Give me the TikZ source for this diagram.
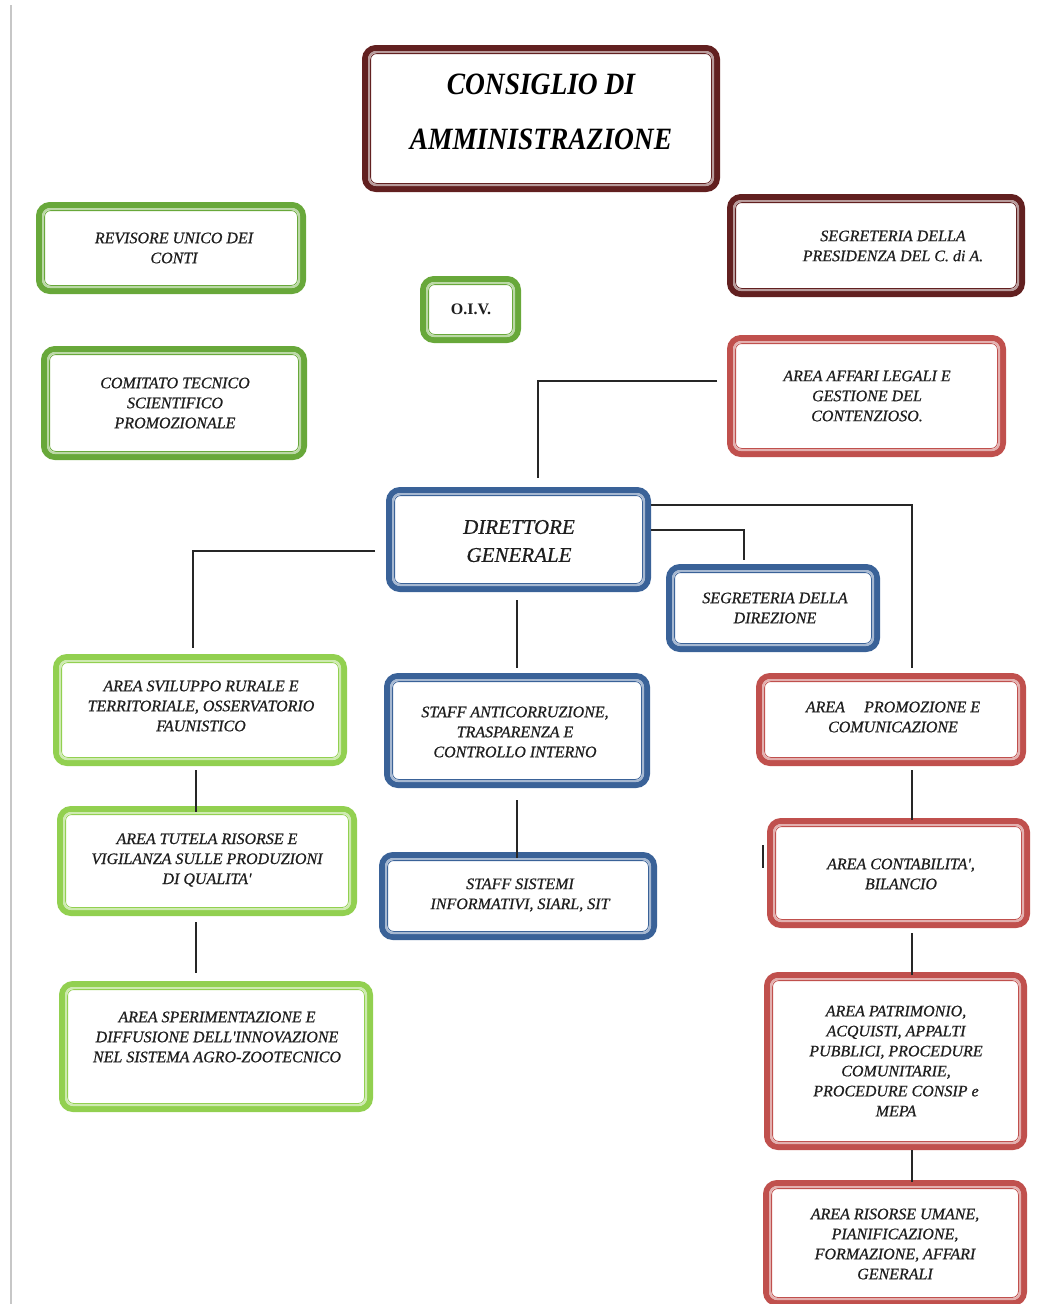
\documentclass[tikz,border=0pt]{standalone}
\usepackage{fontspec}
\usepackage{graphicx}
\setmainfont{Liberation Serif}
\newfontfamily\lblfont{Liberation Serif}[FakeBold=0.6]
\definecolor{cdabrown}{RGB}{98,32,32}
\definecolor{topgreen}{RGB}{104,168,58}
\definecolor{areagreen}{RGB}{146,208,80}
\definecolor{staffblue}{RGB}{58,98,152}
\definecolor{areared}{RGB}{192,80,77}
\definecolor{ink}{RGB}{30,30,30}

\tikzset{
  obox/.style={draw=#1, line width=6pt, rounded corners=11pt, fill=white, inner sep=0pt},
  lbl/.style={font=\lblfont\fontsize{16}{20}\selectfont\itshape, align=center, text=ink, inner sep=0pt},
  conn/.style={draw=black!85, line width=1.4pt},
}
% inner rim of a box: a light band and a thin dark line inside the thick border
\newcommand\boxrim[2]{%
  \draw[#2!45, line width=2pt, rounded corners=7pt]
    ([shift={(7pt,-7pt)}]#1.north west) rectangle ([shift={(-7pt,7pt)}]#1.south east);
  \draw[#2, line width=0.8pt, rounded corners=6pt]
    ([shift={(8.6pt,-8.6pt)}]#1.north west) rectangle ([shift={(-8.6pt,8.6pt)}]#1.south east);
}

\begin{document}
\begin{tikzpicture}[x=1pt,y=-1pt]
\useasboundingbox[fill=white] (0,0) rectangle (1041,1304);

% page margin rule
\draw[black!22, line width=2pt] (11,5) -- (11,1304);

% boxes
\node[obox=cdabrown,   minimum width=352pt, minimum height=141pt] (cda)    at (541,118.5) {};
\node[obox=topgreen,   minimum width=264pt, minimum height=86pt]  (rev)    at (171,248) {};
\node[obox=cdabrown,   minimum width=292pt, minimum height=97pt]  (spres)  at (876,245.5) {};
\node[obox=topgreen,   minimum width=95pt,  minimum height=61pt]  (oiv)    at (470.5,309.5) {};
\node[obox=topgreen,   minimum width=260pt, minimum height=108pt] (cts)    at (174,403) {};
\node[obox=areared,    minimum width=273pt, minimum height=116pt] (legali) at (866.5,396) {};
\node[obox=staffblue,  minimum width=259pt, minimum height=99pt]  (dg)     at (518.5,539.5) {};
\node[obox=staffblue,  minimum width=208pt, minimum height=82pt]  (sdir)   at (773,608) {};
\node[obox=areagreen,  minimum width=288pt, minimum height=106pt] (svil)   at (200,710) {};
\node[obox=staffblue,  minimum width=260pt, minimum height=109pt] (anti)   at (517,730.5) {};
\node[obox=areared,    minimum width=264pt, minimum height=87pt]  (prom)   at (891,719.5) {};
\node[obox=areagreen,  minimum width=294pt, minimum height=104pt] (tut)    at (207,861) {};
\node[obox=staffblue,  minimum width=272pt, minimum height=82pt]  (sis)    at (518,896) {};
\node[obox=areared,    minimum width=257pt, minimum height=104pt] (cont)   at (898.5,873) {};
\node[obox=areagreen,  minimum width=308pt, minimum height=125pt] (sper)   at (216,1046.5) {};
\node[obox=areared,    minimum width=257pt, minimum height=172pt] (patr)   at (895.5,1061) {};
\node[obox=areared,    minimum width=258pt, minimum height=120pt] (risu)   at (895,1243) {};

\boxrim{cda}{cdabrown}
\boxrim{rev}{topgreen}
\boxrim{spres}{cdabrown}
\boxrim{oiv}{topgreen}
\boxrim{cts}{topgreen}
\boxrim{legali}{areared}
\boxrim{dg}{staffblue}
\boxrim{sdir}{staffblue}
\boxrim{svil}{areagreen}
\boxrim{anti}{staffblue}
\boxrim{prom}{areared}
\boxrim{tut}{areagreen}
\boxrim{sis}{staffblue}
\boxrim{cont}{areared}
\boxrim{sper}{areagreen}
\boxrim{patr}{areared}
\boxrim{risu}{areared}

% texts
\node[font=\fontsize{31}{55}\selectfont\bfseries\itshape, align=center, text=black, inner sep=0pt]
  (cda-t) at (541,112) {\scalebox{0.885}[1]{CONSIGLIO DI}\\\scalebox{0.885}[1]{AMMINISTRAZIONE}};
\node[lbl] (rev-t)    at (174,248)  {REVISORE UNICO DEI\\CONTI};
\node[lbl] (spres-t)  at (893,246)  {SEGRETERIA DELLA\\PRESIDENZA DEL C. di A.};
\node[font=\fontsize{16}{20}\selectfont\bfseries, text=ink, inner sep=0pt] (oiv-t) at (471,309) {O.I.V.};
\node[lbl] (cts-t)    at (175,403)  {COMITATO TECNICO\\SCIENTIFICO\\PROMOZIONALE};
\node[lbl] (legali-t) at (867,396)  {AREA AFFARI LEGALI E\\GESTIONE DEL\\CONTENZIOSO.};
\node[font=\lblfont\fontsize{21}{28}\selectfont\itshape, align=center, text=ink, inner sep=0pt]
  (dg-t) at (519,541) {DIRETTORE\\GENERALE};
\node[lbl] (sdir-t)   at (775,608)  {SEGRETERIA DELLA\\DIREZIONE};
\node[lbl] (svil-t)   at (201,706)  {AREA SVILUPPO RURALE E\\TERRITORIALE, OSSERVATORIO\\FAUNISTICO};
\node[lbl] (anti-t)   at (515,732)  {STAFF ANTICORRUZIONE,\\TRASPARENZA E\\CONTROLLO INTERNO};
\node[lbl] (prom-t)   at (893,717)  {AREA\hspace{1.2em}PROMOZIONE E\\COMUNICAZIONE};
\node[lbl] (tut-t)    at (207,860)  {AREA TUTELA RISORSE E\\VIGILANZA SULLE PRODUZIONI\\DI QUALITA'};
\node[lbl] (sis-t)    at (520,895)  {STAFF SISTEMI\\INFORMATIVI, SIARL, SIT};
\node[lbl] (cont-t)   at (901,874)  {AREA CONTABILITA',\\BILANCIO};
\node[lbl] (sper-t)   at (217,1037) {AREA SPERIMENTAZIONE E\\DIFFUSIONE DELL'INNOVAZIONE\\NEL SISTEMA AGRO-ZOOTECNICO};
\node[lbl] (patr-t)   at (896,1061) {AREA PATRIMONIO,\\ACQUISTI, APPALTI\\PUBBLICI, PROCEDURE\\COMUNITARIE,\\PROCEDURE CONSIP e\\MEPA};
\node[lbl] (risu-t)   at (895,1244) {AREA RISORSE UMANE,\\PIANIFICAZIONE,\\FORMAZIONE, AFFARI\\GENERALI};

% connectors
\draw[conn] ([xshift=-10pt,yshift=15pt]legali.west) -| ([xshift=19.5pt,yshift=9pt]dg.north);
\draw[conn] ([xshift=-11pt,yshift=-11.5pt]dg.west) -| ([xshift=-7pt,yshift=6pt]svil.north);
\draw[conn] ([yshift=34.5pt]dg.east) -| ([xshift=21pt,yshift=5pt]prom.north);
\draw[conn] ([yshift=9.5pt]dg.east) -| ([xshift=-29pt,yshift=4pt]sdir.north);
\draw[conn] ([xshift=-1.5pt,yshift=-8pt]dg.south) -- ([yshift=5pt]anti.north);
\draw[conn] ([yshift=-12pt]anti.south) -- ([xshift=-1pt,yshift=-6pt]sis.north);
\draw[conn] ([xshift=-4pt,yshift=-4pt]svil.south) -- ([xshift=-11pt,yshift=-6pt]tut.north);
\draw[conn] ([xshift=-11pt,yshift=-6pt]tut.south) -- ([xshift=-20pt,yshift=8pt]sper.north);
\draw[conn] ([xshift=21pt,yshift=-4pt]prom.south) -- ([xshift=13.5pt,yshift=-2pt]cont.north);
\draw[conn] ([xshift=13.5pt,yshift=-5pt]cont.south) -- ([xshift=16.5pt,yshift=-3pt]patr.north);
\draw[conn] ([xshift=16.5pt]patr.south) -- ([xshift=17pt,yshift=-2pt]risu.north);
\coordinate (tick) at (763,845);
\draw[conn] (tick) -- ++(0,23);
\end{tikzpicture}
\end{document}
